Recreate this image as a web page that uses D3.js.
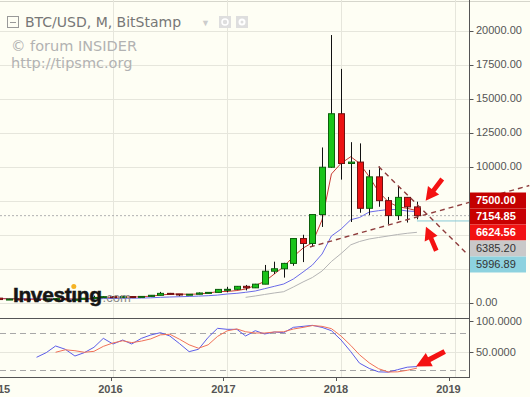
<!DOCTYPE html>
<html>
<head>
<meta charset="utf-8">
<script src="https://cdn.jsdelivr.net/npm/d3@7"></script>
<style>
  body { margin: 0; background: #fefef4; }
  svg { display: block; font-family: "Liberation Sans", Arial, sans-serif; }
</style>
</head>
<body>
<script>
// monthly BTC/USD candles, Jan 2015 .. Sep 2018
var opens = [320, 217, 254, 244, 236, 230, 263, 284, 230, 236, 314, 377,
  430, 369, 437, 416, 448, 531, 672, 624, 573, 608, 700, 744,
  964, 970, 1190, 1079, 1348, 2300, 2480, 2875, 4703, 4338, 6468, 9946,
  13880, 10221, 10326, 6926, 9240, 7490, 6390, 7730, 7030];
var highs = [320, 265, 300, 261, 247, 268, 317, 285, 244, 334, 502, 469,
  463, 448, 439, 467, 550, 780, 704, 628, 625, 740, 755, 982,
  1153, 1211, 1290, 1370, 2760, 3000, 2916, 4736, 4980, 6470, 11400, 19666,
  17176, 11789, 11700, 9750, 10000, 7760, 8500, 7760, 7410];
var lows = [152, 212, 236, 214, 228, 221, 253, 162, 225, 236, 300, 350,
  350, 365, 392, 413, 437, 516, 606, 465, 566, 603, 676, 740,
  750, 940, 890, 1063, 1347, 2100, 1830, 2700, 2972, 4108, 5555, 9900,
  9035, 5920, 6600, 6430, 7040, 5750, 6070, 5880, 6120];
var closes = [217, 254, 244, 236, 230, 263, 284, 230, 236, 314, 377, 430,
  369, 437, 416, 448, 531, 672, 624, 573, 608, 700, 744, 964,
  970, 1190, 1079, 1348, 2300, 2480, 2875, 4703, 4338, 6468, 9946, 13880,
  10221, 10326, 6926, 9240, 7490, 6390, 7730, 7030, 6385.20];

// moving averages
var maRed = [290, 265, 250, 240, 235, 240, 258, 262, 250, 258, 300, 365,
  395, 400, 405, 425, 465, 550, 610, 625, 600, 630, 690, 800,
  810, 880, 990, 1250, 1545, 2095, 2630, 3380, 4000, 4400, 6070, 9450,
  10235, 10720, 10235, 9250, 8150, 7410, 7045, 6925, 6750];
var maBlue = [300, 290, 280, 270, 262, 258, 258, 252, 248, 252, 268, 285,
  295, 305, 315, 325, 345, 380, 405, 425, 445, 470, 500, 545,
  625, 676, 750, 845, 1015, 1190, 1360, 1727, 2240, 2755, 3565, 4890,
  5400, 6085, 6250, 6650, 6750, 6835, 6835, 6725, 6690];
var maGrey = [380, 480, 590, 700, 795, 1140, 1510, 1840, 2315, 3015,   // from Mar 2017
  3600, 4240, 4485, 4670, 4780, 4890, 5000, 5090, 5160];

// oscillator (lower pane)
var oscBlue = [40.9, 48.4, 59.1, 53.8, 43, 48.4, 57, 71.4,             // from May 2015
  62.3, 68.7, 62.3, 71.4, 76.8, 80.5, 75.2, 63, 50, 53.8, 73, 87.5,
  85.9, 85.9, 75.2, 83.7, 78.4, 81.6, 80.5, 89.1, 90.7, 92.3, 89, 83.7,
  68.7, 50, 31.5, 23, 17.5, 17, 21, 25, 26];
var oscRed = [49, 53, 51.5, 49, 50.5, 58.5,                                // from Jul 2015
  64, 67.5, 64.5, 67, 70.5, 77, 78, 70, 61, 55.5, 61, 74.5,
  83.5, 86.5, 82, 80, 80, 81.6, 82, 86.4, 89, 92, 90.7, 87,
  75, 60, 45, 32, 22.6, 17.3, 17.5, 20, 23.5];

var priceTicks = [0, 2500, 5000, 7500, 10000, 12500, 15000, 17500, 20000];
var priceLabelTicks = [0, 10000, 12500, 15000, 17500, 20000];
var oscTicks = [100, 50];
var oscLevels = [80, 20];
var years = [2015, 2016, 2017, 2018, 2019];

var tagValues = [7500.00, 7154.85, 6624.56, 6385.20, 5996.89];
var lastPrice = 6385.20;
var supportLevel = 5996.89;

var trendUp = [['2017-09-23', 4080], ['2019-08-27', 8600]];
var trendDown = [['2018-05-01', 10000], ['2019-02-07', 3620]];
var mainArrows = [
  { tip: ['2018-09-29', 7485], tail: ['2018-11-21', 9080] },
  { tip: ['2018-09-30', 5575], tail: ['2018-11-02', 3810] }
];
var oscArrow = { tip: ['2018-08-29', 26], tail: ['2018-11-29', 50.3] };

var W = 530, H = 397;
var axisX = 469.5, mainBottom = 318, oscBottom = 377;
var tagFill = ['#c40000', '#c80000', '#f21212', '#c9c9c9', '#8dd2df'];
var tagText = ['#fff', '#fff', '#fff', '#333', '#333'];

var parse = d3.timeParse('%Y-%m-%d');
var months = d3.timeMonth.range(new Date(2015, 0, 1), new Date(2018, 9, 1));

var x = d3.scaleTime()
  .domain([new Date(2016, 0, 1), new Date(2019, 0, 1)])
  .range([113, 455]);
var xLabel = d3.scaleTime()
  .domain([new Date(2016, 0, 1), new Date(2019, 0, 1)])
  .range([110.5, 448.5]);
var y = d3.scaleLinear().domain([0, 20000]).range([302.5, 30.5]);
var yo = d3.scaleLinear().domain([20, 80]).range([370.3, 333]);

var svg = d3.select('body').append('svg')
  .attr('width', W)
  .attr('height', H);

var defs = svg.append('defs');
defs.append('clipPath').attr('id', 'clipMain')
  .append('rect').attr('x', 0).attr('y', 0).attr('width', axisX).attr('height', mainBottom);
defs.append('clipPath').attr('id', 'clipOsc')
  .append('rect').attr('x', 0).attr('y', mainBottom).attr('width', axisX).attr('height', oscBottom - mainBottom);

// top border
svg.append('line')
  .attr('x1', 0).attr('x2', W).attr('y1', 1.5).attr('y2', 1.5)
  .attr('stroke', '#d6d6cc');

// ---- grid
var grid = svg.append('g');
grid.selectAll('.hgrid')
  .data(priceTicks)
  .enter().append('line')
  .attr('x1', 0).attr('x2', axisX)
  .attr('y1', function(d) { return Math.round(y(d)) + 0.5; })
  .attr('y2', function(d) { return Math.round(y(d)) + 0.5; })
  .attr('stroke', '#e6e6dc');
grid.selectAll('.vgrid')
  .data(years)
  .enter().append('line')
  .attr('x1', function(d) { return Math.round(x(new Date(d, 0, 1))) + 0.5; })
  .attr('x2', function(d) { return Math.round(x(new Date(d, 0, 1))) + 0.5; })
  .attr('y1', 0).attr('y2', oscBottom)
  .attr('stroke', '#e6e6dc');
grid.append('line')
  .attr('x1', 0).attr('x2', axisX)
  .attr('y1', Math.round(yo(50)) + 0.5).attr('y2', Math.round(yo(50)) + 0.5)
  .attr('stroke', '#e6e6dc');

// ---- main pane
var main = svg.append('g').attr('clip-path', 'url(#clipMain)');

main.append('line')
  .attr('x1', 0).attr('x2', axisX)
  .attr('y1', y(lastPrice)).attr('y2', y(lastPrice))
  .attr('stroke', '#b0b0b0')
  .attr('stroke-dasharray', '2,2');
main.append('line')
  .attr('x1', x(months[months.length - 1])).attr('x2', axisX)
  .attr('y1', y(supportLevel)).attr('y2', y(supportLevel))
  .attr('stroke', '#86c9d6');

var maLine = d3.line()
  .x(function(d) { return x(d[0]); })
  .y(function(d) { return y(d[1]); });

main.append('path')
  .datum(d3.zip(months.slice(26), maGrey))
  .attr('d', maLine)
  .attr('fill', 'none')
  .attr('stroke', '#b4b4b4');
main.append('path')
  .datum(d3.zip(months, maBlue))
  .attr('d', maLine)
  .attr('fill', 'none')
  .attr('stroke', '#6a6ae8');
main.append('path')
  .datum(d3.zip(months, maRed))
  .attr('d', maLine)
  .attr('fill', 'none')
  .attr('stroke', '#c83a32');

var candles = months.map(function(m, i) {
  return { date: m, o: opens[i], h: highs[i], l: lows[i], c: closes[i] };
});

var cg = main.selectAll('.candle')
  .data(candles)
  .enter().append('g')
  .attr('class', 'candle');

cg.append('line')
  .attr('x1', function(d) { return Math.round(x(d.date)) + 0.5; })
  .attr('x2', function(d) { return Math.round(x(d.date)) + 0.5; })
  .attr('y1', function(d) { return y(d.h); })
  .attr('y2', function(d) { return y(d.l); })
  .attr('stroke', '#111');

cg.append('rect')
  .attr('x', function(d) { return Math.round(x(d.date)) - 2.5; })
  .attr('width', 6)
  .attr('y', function(d) { return y(Math.max(d.o, d.c)); })
  .attr('height', function(d) { return Math.max(1, Math.abs(y(d.o) - y(d.c))); })
  .attr('fill', function(d) { return d.c >= d.o ? '#1ac41a' : '#ec1212'; })
  .attr('stroke', function(d) { return d.c >= d.o ? '#0c600c' : '#701010'; });

// ---- trend lines (extend past the axis)
var trendLine = d3.line()
  .x(function(d) { return x(parse(d[0])); })
  .y(function(d) { return y(d[1]); });

svg.append('g').selectAll('path')
  .data([trendUp, trendDown])
  .enter().append('path')
  .attr('d', trendLine)
  .attr('fill', 'none')
  .attr('stroke', '#8e3c3c')
  .attr('stroke-width', 1.4)
  .attr('stroke-dasharray', '5,4');

// ---- oscillator pane
var osc = svg.append('g').attr('clip-path', 'url(#clipOsc)');

osc.selectAll('.lvl')
  .data(oscLevels)
  .enter().append('line')
  .attr('x1', 0).attr('x2', axisX)
  .attr('y1', function(d) { return Math.round(yo(d)) + 0.5; })
  .attr('y2', function(d) { return Math.round(yo(d)) + 0.5; })
  .attr('stroke', '#a8a8a8')
  .attr('stroke-dasharray', '6,4');

var oscLine = d3.line()
  .x(function(d) { return x(d[0]); })
  .y(function(d) { return yo(d[1]); });

osc.append('path')
  .datum(d3.zip(months.slice(4), oscBlue))
  .attr('d', oscLine)
  .attr('fill', 'none')
  .attr('stroke', '#5c5ce8');
osc.append('path')
  .datum(d3.zip(months.slice(6), oscRed))
  .attr('d', oscLine)
  .attr('fill', 'none')
  .attr('stroke', '#f07058');

// ---- frame and axes
svg.append('line')
  .attr('x1', 0).attr('x2', axisX).attr('y1', mainBottom + 0.5).attr('y2', mainBottom + 0.5)
  .attr('stroke', '#555');
svg.append('line')
  .attr('x1', 0).attr('x2', axisX).attr('y1', oscBottom + 0.5).attr('y2', oscBottom + 0.5)
  .attr('stroke', '#555');
svg.append('line')
  .attr('x1', axisX).attr('x2', axisX).attr('y1', 0).attr('y2', oscBottom + 1)
  .attr('stroke', '#555');

var yAxis = svg.append('g');
yAxis.selectAll('.pt')
  .data(priceLabelTicks)
  .enter().append('line')
  .attr('x1', axisX).attr('x2', axisX + 4)
  .attr('y1', function(d) { return Math.round(y(d)) + 0.5; })
  .attr('y2', function(d) { return Math.round(y(d)) + 0.5; })
  .attr('stroke', '#555');
yAxis.selectAll('.pl')
  .data(priceLabelTicks)
  .enter().append('text')
  .attr('x', 476)
  .attr('y', function(d) { return y(d); })
  .attr('dy', '0.35em')
  .style('font-size', '11px')
  .attr('fill', '#555')
  .text(d3.format('.2f'));

yAxis.selectAll('.ot')
  .data(oscTicks)
  .enter().append('line')
  .attr('x1', axisX).attr('x2', axisX + 4)
  .attr('y1', function(d) { return Math.round(yo(d)) + 0.5; })
  .attr('y2', function(d) { return Math.round(yo(d)) + 0.5; })
  .attr('stroke', '#555');
yAxis.selectAll('.ol')
  .data(oscTicks)
  .enter().append('text')
  .attr('x', 476)
  .attr('y', function(d) { return d === 100 ? yo(d) + 1 : yo(d); })
  .attr('dy', '0.35em')
  .style('font-size', '11px')
  .attr('fill', '#555')
  .text(d3.format('.4f'));

// date axis
var xAxis = svg.append('g');
xAxis.selectAll('line')
  .data(years)
  .enter().append('line')
  .attr('x1', function(d) { return Math.round(xLabel(new Date(d, 0, 1))) + 0.5; })
  .attr('x2', function(d) { return Math.round(xLabel(new Date(d, 0, 1))) + 0.5; })
  .attr('y1', oscBottom).attr('y2', oscBottom + 4)
  .attr('stroke', '#555');
xAxis.selectAll('text')
  .data(years)
  .enter().append('text')
  .attr('x', function(d) { return xLabel(new Date(d, 0, 1)); })
  .attr('y', 393)
  .attr('text-anchor', 'middle')
  .style('font-size', '11px')
  .style('font-weight', 'bold')
  .attr('fill', '#555')
  .text(function(d) { return d; });

// price tags, pushed apart so they don't overlap
var tagY = [];
tagValues.forEach(function(v, i) {
  var yy = y(v);
  if (i > 0) yy = Math.max(yy, tagY[i - 1] + 16);
  tagY.push(yy);
});
var tags = svg.append('g').selectAll('g')
  .data(tagValues)
  .enter().append('g');
tags.append('rect')
  .attr('x', axisX + 0.5)
  .attr('y', function(d, i) { return tagY[i] - 8; })
  .attr('width', 56)
  .attr('height', 16)
  .attr('fill', function(d, i) { return tagFill[i]; });
tags.append('text')
  .attr('x', 476)
  .attr('y', function(d, i) { return tagY[i]; })
  .attr('dy', '0.36em')
  .style('font-size', '11px')
  .style('font-weight', function(d, i) { return i < 3 ? 'bold' : 'normal'; })
  .attr('fill', function(d, i) { return tagText[i]; })
  .text(d3.format('.2f'));

// ---- red arrows
function arrowPath(tip, tail, head, hw, sw) {
  var dx = tip[0] - tail[0], dy = tip[1] - tail[1];
  var len = Math.sqrt(dx * dx + dy * dy);
  var ux = dx / len, uy = dy / len, nx = -uy, ny = ux;
  var bx = tip[0] - ux * head, by = tip[1] - uy * head;
  var pts = [
    [tail[0] + nx * sw, tail[1] + ny * sw],
    [bx + nx * sw, by + ny * sw],
    [bx + nx * hw, by + ny * hw],
    tip,
    [bx - nx * hw, by - ny * hw],
    [bx - nx * sw, by - ny * sw],
    [tail[0] - nx * sw, tail[1] - ny * sw]
  ];
  return 'M' + pts.map(function(p) { return p[0] + ',' + p[1]; }).join('L') + 'Z';
}
var arrows = svg.append('g');
mainArrows.forEach(function(a) {
  arrows.append('path')
    .attr('d', arrowPath([x(parse(a.tip[0])), y(a.tip[1])], [x(parse(a.tail[0])), y(a.tail[1])], 13, 7, 2.4))
    .attr('fill', '#f41212');
});
arrows.append('path')
  .attr('d', arrowPath([x(parse(oscArrow.tip[0])), yo(oscArrow.tip[1])],
    [x(parse(oscArrow.tail[0])), yo(oscArrow.tail[1])], 15, 7.5, 2.6))
  .attr('fill', '#f41212');

// ---- header
var head = svg.append('g');
head.append('rect')
  .attr('x', 7.5).attr('y', 16.5).attr('width', 11).attr('height', 11)
  .attr('fill', 'none').attr('stroke', '#999');
head.append('line')
  .attr('x1', 10).attr('x2', 16).attr('y1', 22.5).attr('y2', 22.5)
  .attr('stroke', '#999');
head.append('text')
  .attr('x', 25).attr('y', 27)
  .style('font-family', '"DejaVu Sans", Verdana, sans-serif')
  .style('font-size', '14px')
  .attr('fill', '#777')
  .text('BTC/USD, M, BitStamp');
head.append('text')
  .attr('x', 201).attr('y', 26)
  .style('font-size', '9px')
  .attr('fill', '#ccc')
  .text('▼');
head.append('rect')
  .attr('x', 219).attr('y', 16).attr('width', 12).attr('height', 12)
  .attr('fill', '#dedede');
head.append('circle')
  .attr('cx', 225).attr('cy', 22).attr('r', 3)
  .attr('fill', 'none').attr('stroke', '#fff').attr('stroke-width', 1.5);
head.append('rect')
  .attr('x', 236).attr('y', 16).attr('width', 12).attr('height', 12)
  .attr('fill', '#dedede');
head.append('circle')
  .attr('cx', 242).attr('cy', 22).attr('r', 3.5)
  .attr('fill', '#fff');
head.append('circle')
  .attr('cx', 242).attr('cy', 22).attr('r', 1.5)
  .attr('fill', '#dedede');

head.append('text')
  .attr('x', 11).attr('y', 51)
  .style('font-family', '"DejaVu Sans", Verdana, sans-serif')
  .style('font-size', '14.5px')
  .attr('fill', '#b2b2b2')
  .text('© forum INSIDER');
head.append('text')
  .attr('x', 11).attr('y', 68)
  .style('font-family', '"DejaVu Sans", Verdana, sans-serif')
  .style('font-size', '14.5px')
  .attr('fill', '#b2b2b2')
  .text('http://tipsmc.org');

// Investing.com watermark
var logo = svg.append('g');
var word = logo.append('text')
  .attr('x', 13).attr('y', 302)
  .style('font-size', '21px')
  .style('font-weight', 'bold')
  .style('letter-spacing', '-0.4px')
  .attr('fill', '#151515')
  .attr('stroke', '#151515')
  .attr('stroke-width', 0.5)
  .text('Investıng');
logo.append('text')
  .attr('x', 13 + word.node().getComputedTextLength() + 1).attr('y', 302)
  .style('font-size', '13px')
  .attr('fill', '#8a8a8a')
  .text('.com');
var ext = word.node().getExtentOfChar(6);
logo.append('circle')
  .attr('cx', ext.x + ext.width / 2 - 0.2)
  .attr('cy', 286.5)
  .attr('r', 2.5)
  .attr('fill', '#f5b324');
</script>
</body>
</html>
